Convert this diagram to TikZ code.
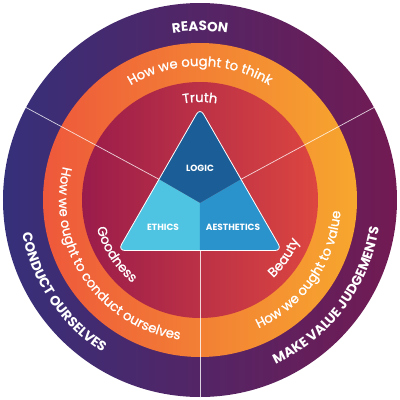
\documentclass[tikz,border=0pt]{standalone}
\usepackage{fontspec}
\setmainfont{Poppins}
\newfontfamily\medfont{Poppins}[FakeBold=1.2]
\usetikzlibrary{decorations.text}
\definecolor{purL}{HTML}{35307A}
\definecolor{purR}{HTML}{721A52}
\definecolor{orL}{HTML}{EE583B}
\definecolor{orR}{HTML}{F7A72E}
\definecolor{redL}{HTML}{9A1C4B}
\definecolor{redR}{HTML}{DD4640}
\definecolor{triTop}{HTML}{1B5E97}
\definecolor{triL}{HTML}{4FC4E2}
\definecolor{triR}{HTML}{2B93CC}
\newcommand\ringtxt{\medfont\fontsize{13.2}{15}\selectfont}
\newcommand\captxt{\bfseries\fontsize{13.5}{15}\selectfont}
\newcommand\tritxt{\bfseries\fontsize{9}{11}\selectfont}
\begin{document}
\begin{tikzpicture}[x=1pt,y=1pt,
  arctext/.style={decorate, decoration={text along path, text align=center, text color=white, text={#1}}},
  divider/.style={draw=white, draw opacity=0.8, line width=0.7pt},
  trilabel/.style={text=white, font=\tritxt, inner sep=0pt}]
\useasboundingbox (-200,-200) rectangle (200,200);
\fill[white] (-200,-200) rectangle (200,200);
% rings
\shade[left color=purL, right color=purR] (0,0) circle[radius=197];
\shade[left color=orL, right color=orR] (0,0) circle[radius=157];
\shade[left color=redL, right color=redR] (0,0) circle[radius=118];
% triangle geometry
\coordinate (C) at (0,-3);
\coordinate (T) at (0,92);
\coordinate (BL) at (-82,-50.5);
\coordinate (BR) at (82,-50.5);
\coordinate (ML) at (-41,20.7);
\coordinate (MR) at (41,20.7);
\coordinate (MB) at (0,-50.5);
\coordinate (EL) at (152:197);
\coordinate (ER) at (28:197);
\coordinate (EB) at (270:197);
% dividers
\draw[divider] (ML) -- (EL);
\draw[divider] (MR) -- (ER);
\draw[divider] (MB) -- (EB);
% triangle
\begin{scope}
  \clip[rounded corners=7pt] (MB) -- (BR) -- (T) -- (BL) -- cycle;
  \fill[triTop] (T) -- (MR) -- (C) -- (ML) -- cycle;
  \fill[triL] (ML) -- (C) -- (MB) -- (BL) -- (-100,-60) -- (-100,40) -- cycle;
  \fill[triR] (MR) -- (C) -- (MB) -- (BR) -- (100,-60) -- (100,40) -- cycle;
\end{scope}
\draw[white, line width=0.8pt, rounded corners=7pt] (MB) -- (BR) -- (T) -- (BL) -- cycle;
\node[trilabel] (logic) at (0,32) {LOGIC};
\node[trilabel] (ethics) at (-37,-27) {ETHICS};
\node[trilabel] (aesth) at (33,-27) {AESTHETICS};
% ring texts
\path[arctext={|\captxt|REASON}] (150:169) arc[start angle=150, end angle=30, radius=169];
\path[arctext={|\ringtxt|How we ought to think}] (150:134) arc[start angle=150, end angle=30, radius=134];
\path[arctext={|\ringtxt|Truth}] (140:98) arc[start angle=140, end angle=40, radius=98];
\path[arctext={|\ringtxt|Goodness}] (163:107) arc[start angle=163, end angle=263, radius=107];
\path[arctext={|\ringtxt|Beauty}] (-84.5:107) arc[start angle=-84.5, end angle=15.5, radius=107];
\path[arctext={|\ringtxt|How we ought to conduct ourselves}] (144:141) arc[start angle=144, end angle=284, radius=141];
\path[arctext={|\ringtxt|How we ought to value}] (-105:141) arc[start angle=-105, end angle=35, radius=141];
\path[arctext={|\captxt|CONDUCT OURSELVES}] (144:181) arc[start angle=144, end angle=284, radius=181];
\path[arctext={|\captxt|MAKE VALUE JUDGEMENTS}] (-107:181) arc[start angle=-107, end angle=33, radius=181];
\end{tikzpicture}
\end{document}
